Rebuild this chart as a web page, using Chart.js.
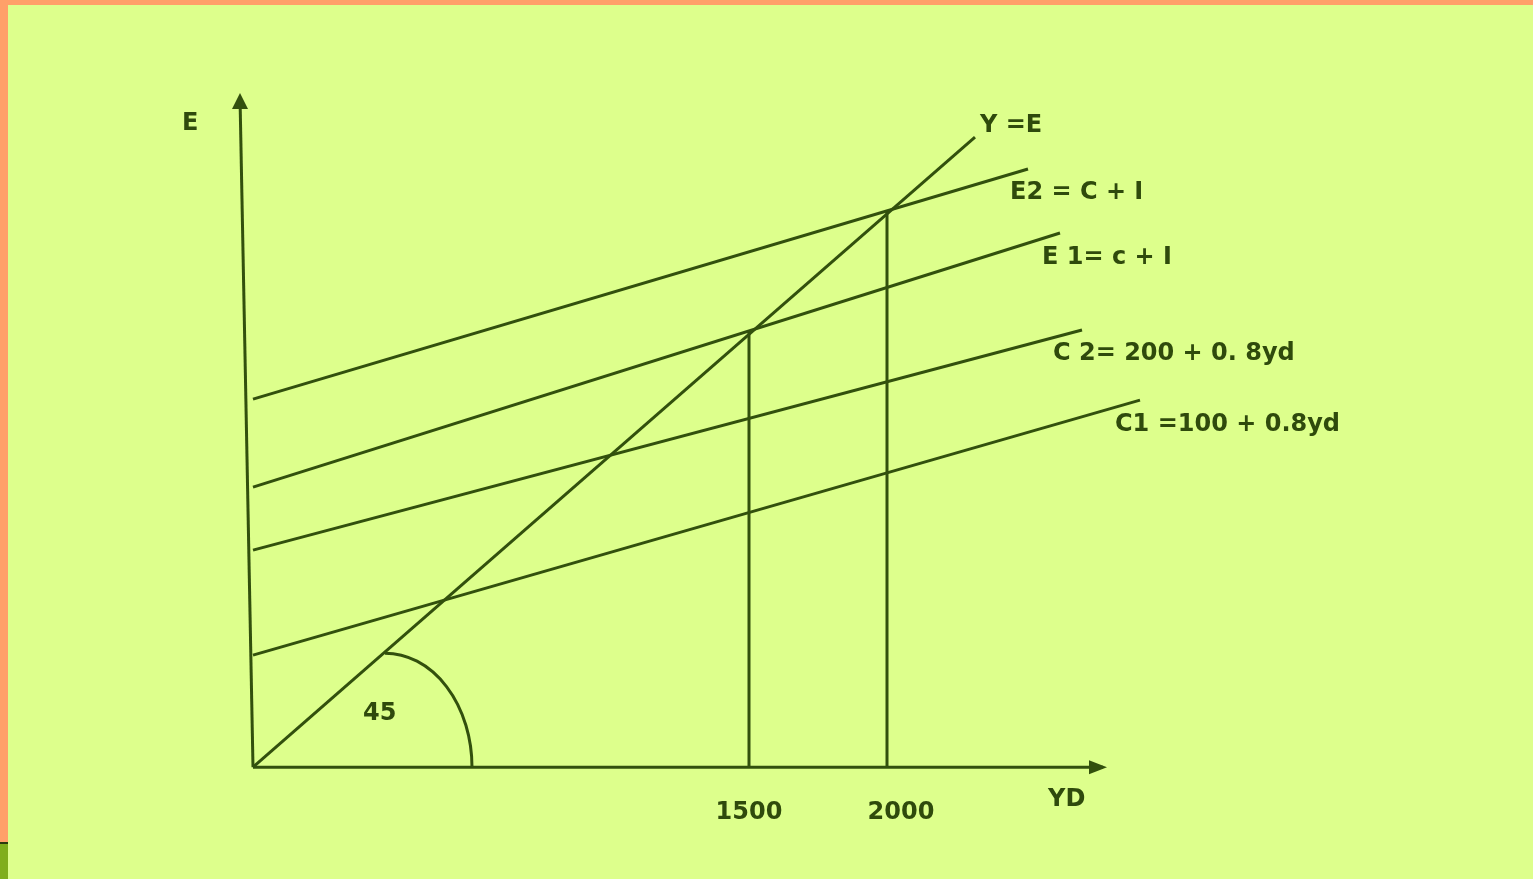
<!DOCTYPE html>
<html>
<head>
<meta charset="utf-8">
<script src="https://cdn.jsdelivr.net/npm/chart.js@4.4.0/dist/chart.umd.min.js"></script>
<style>
  html, body { margin: 0; padding: 0; }
  body {
    width: 1533px; height: 879px; overflow: hidden;
    background: #ddff8c;
    position: relative;
  }
  .edge-top { position: absolute; left: 0; top: 0; width: 1533px; height: 5px; background: #ffa069; }
  .edge-left { position: absolute; left: 0; top: 0; width: 8px; height: 879px; background: #ffa069; }
  .leaf { position: absolute; left: 0; top: 842px; width: 8px; height: 37px; background: #7fae1c;
          border-top: 2px solid #2b3a10; }
  #wrap { position: absolute; left: 0; top: 0; width: 1533px; height: 879px; }
</style>
</head>
<body>
<div class="edge-top"></div>
<div class="edge-left"></div>
<div class="leaf"></div>
<div id="wrap"><canvas id="chart"></canvas></div>
<script>
// diagram units: x = YD axis, y = E axis (origin where the axes meet)
var yAxisLine = [{x: 0, y: 0}, {x: -13, y: 670}];
var xAxisLine = [{x: 0, y: 0}, {x: 850, y: 0}];
var lineYE = [{x: 0, y: 0}, {x: 722, y: 630}];
var lineE2 = [{x: 0, y: 368}, {x: 775, y: 598}];
var lineE1 = [{x: 0, y: 280}, {x: 807, y: 534}];
var lineC2 = [{x: 0, y: 217}, {x: 829, y: 437}];
var lineC1 = [{x: 0, y: 112}, {x: 887, y: 367}];
var drop1500 = [{x: 496, y: 0}, {x: 496, y: 435}];
var drop2000 = [{x: 634, y: 0}, {x: 634, y: 555}];

// tick labels on the YD axis (the 2000 label sits a little right of its line)
var tickValues = [496, 648];
var tickLabels = ['1500', '2000'];

// curve names and axis names
var labelTexts = ['E', 'Y =E', 'E2 = C + I', 'E 1= c + I', 'C 2= 200 + 0. 8yd', 'C1 =100 + 0.8yd', 'YD', '45'];
var labelSpots = [[-71, 643], [727, 641], [757, 574], [789, 509], [800, 413], [862, 342], [795, -33], [110, 53]];

var ink = '#32500d';
var textInk = '#2f4a0c';

function seg(data) {
  return {
    data: data,
    showLine: true,
    borderColor: ink,
    borderWidth: 3,
    pointRadius: 0,
    fill: false,
    clip: false
  };
}

// arrows, the 45 degree arc and text
var decorPlugin = {
  id: 'decor',
  afterDatasetsDraw: function(chart) {
    var ctx = chart.ctx;
    var xs = chart.scales.x, ys = chart.scales.y;
    ctx.save();
    ctx.fillStyle = ink;
    ctx.strokeStyle = ink;

    // y arrow
    var tx = xs.getPixelForValue(yAxisLine[1].x), ty = ys.getPixelForValue(yAxisLine[1].y);
    ctx.beginPath();
    ctx.moveTo(tx, ty - 4);
    ctx.lineTo(tx - 8, ty + 12);
    ctx.lineTo(tx + 8, ty + 12);
    ctx.closePath();
    ctx.fill();

    // x arrow
    var ax = xs.getPixelForValue(xAxisLine[1].x), ay = ys.getPixelForValue(xAxisLine[1].y);
    ctx.beginPath();
    ctx.moveTo(ax + 4, ay);
    ctx.lineTo(ax - 14, ay - 7);
    ctx.lineTo(ax - 14, ay + 7);
    ctx.closePath();
    ctx.fill();

    // 45 degree arc
    var cx = xs.getPixelForValue(132), cy = ys.getPixelForValue(0);
    var rx = xs.getPixelForValue(219) - cx, ry = cy - ys.getPixelForValue(114);
    ctx.lineWidth = 3;
    ctx.beginPath();
    ctx.ellipse(cx, cy, rx, ry, 0, -Math.PI / 2, 0);
    ctx.stroke();

    // labels
    ctx.fillStyle = textInk;
    ctx.font = 'bold 24px "DejaVu Sans"';
    ctx.textAlign = 'left';
    ctx.textBaseline = 'middle';
    for (var i = 0; i < labelTexts.length; i++) {
      ctx.fillText(labelTexts[i], xs.getPixelForValue(labelSpots[i][0]), ys.getPixelForValue(labelSpots[i][1]));
    }
    ctx.restore();
  }
};

var ctx = document.getElementById('chart');
var chart = new Chart(ctx, {
  type: 'scatter',
  data: {
    datasets: [
      seg(yAxisLine), seg(xAxisLine), seg(lineYE),
      seg(lineE2), seg(lineE1), seg(lineC2), seg(lineC1),
      seg(drop1500), seg(drop2000)
    ]
  },
  options: {
    responsive: true,
    maintainAspectRatio: false,
    animation: false,
    layout: { padding: { left: 233, right: 380, top: 97, bottom: 21 } },
    plugins: { legend: { display: false }, tooltip: { enabled: false } },
    scales: {
      x: {
        type: 'linear',
        min: -20,
        max: 900,
        grid: { display: false, drawTicks: false },
        border: { display: false },
        afterBuildTicks: function(axis) {
          axis.ticks = tickValues.map(function(v) { return {value: v}; });
        },
        ticks: {
          padding: 31,
          color: textInk,
          font: { family: 'DejaVu Sans', size: 24, weight: 'bold' },
          callback: function(value) {
            var i = tickValues.indexOf(value);
            return i >= 0 ? tickLabels[i] : '';
          }
        }
      },
      y: {
        type: 'linear',
        display: false,
        min: 0,
        max: 670
      }
    }
  },
  plugins: [decorPlugin]
});
</script>
</body>
</html>
